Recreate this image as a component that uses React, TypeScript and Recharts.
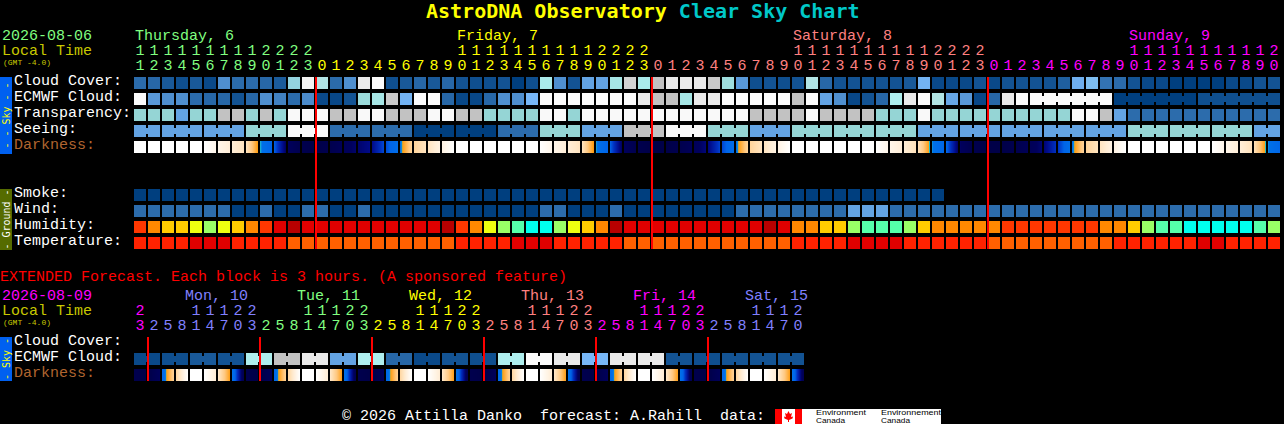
import { ScatterChart, Scatter, XAxis, YAxis, ReferenceLine } from "recharts";

const MONO = "'Liberation Mono', monospace";

// one hour per cell, first cell is Thursday 11:00
const hours = [
  11, 12, 13, 14, 15, 16, 17, 18, 19, 20, 21, 22, 23,
  0, 1, 2, 3, 4, 5, 6, 7, 8, 9, 10, 11, 12, 13, 14, 15, 16, 17, 18, 19, 20, 21, 22, 23,
  0, 1, 2, 3, 4, 5, 6, 7, 8, 9, 10, 11, 12, 13, 14, 15, 16, 17, 18, 19, 20, 21, 22, 23,
  0, 1, 2, 3, 4, 5, 6, 7, 8, 9, 10, 11, 12, 13, 14, 15, 16, 17, 18, 19, 20,
];
const midnights = [13, 37, 61];
const dayLabels: Record<number, string> = { 0: "Thursday, 6", 23: "Friday, 7", 47: "Saturday, 8", 71: "Sunday, 9" };

const cloudCover = [
  22, 20, 13, 8, 13, 5, 40, 22, 22, 20,
  14, 68, 98, 82, 22, 40, 95, 100, 8, 13,
  20, 13, 20, 10, 8, 8, 10, 0, 8, 78,
  40, 10, 50, 50, 76, 92, 78, 90, 95, 95,
  95, 91, 72, 45, 8, 10, 8, 10, 82, 20,
  10, 10, 10, 10, 10, 13, 58, 5, 5, 5,
  10, 5, 10, 10, 10, 10, 16, 56, 62, 26,
  22, 10, 5, 5, 0, 0, 0, 0, 5, 5, 10, 10,
];
const ecmwfCloud = [
  100, 45, 40, 40, 22, 20, 20, 10, 20, 40,
  33, 22, 38, 5, 4, 10, 70, 76, 91, 58,
  100, 100, 20, 4, 4, 20, 40, 40, 60, 100,
  100, 100, 100, 100, 100, 100, 95, 90, 90, 76,
  95, 95, 100, 100, 100, 100, 100, 90, 100, 50,
  40, 4, 10, 20, 80, 95, 100, 82, 52, 45,
  4, 20, 95, 100, 100, 100, 100, 100, 100, 100,
  0, 0, 0, 0, 0, 0, 8, 8, 8, 8, 8, 8,
];
const ecmwfSpans = [...Array(64).fill(1), 6, 6, 6];
// 0 best .. 5 too cloudy
const transparency = [
  3, 3, 3, 2, 3, 3, 4, 4, 3, 4,
  3, 5, 5, 5, 4, 4, 5, 5, 4, 4,
  4, 5, 5, 4, 4, 3, 3, 3, 3, 5,
  5, 3, 5, 5, 5, 5, 5, 5, 5, 5,
  5, 5, 5, 5, 4, 4, 4, 4, 5, 4,
  4, 4, 4, 3, 3, 3, 5, 3, 3, 3,
  3, 3, 3, 3, 3, 3, 3, 5, 5, 4,
  2, 1, 1, 1, 1, 1, 1, 1, 1, 1, 1, 1,
];
const seeingBlocks = [2, 2, 2, 3, 5, 1, 1, 0, 0, 1, 3, 2, 4, 5, 3, 2, 3, 3, 3, 2, 2, 2, 2, 2, 3, 3, 3, 2];
const seeingSpans = [2, 3, 3, 3, 3, 3, 3, 3, 3, 3, 3, 3, 3, 3, 3, 3, 3, 3, 3, 3, 3, 3, 3, 3, 3, 3, 3, 2];
const darkness = [
  -4, -4, -4, -4, -4, -4, -3.4, -2.9, -2.4, 0,
  1.2, 3.6, 4.6, 5, 4.6, 3.9, 3.4, 3, 1.6, 0.4,
  -1.7, -2.4, -3.2, -4, -4, -4, -4, -4, -4, -4,
  -3.4, -2.9, -2.4, 0.05, 1.2, 3.6, 4.6, 5, 5, 4.6,
  3.9, 3.2, 1.7, 0.4, -1.7, -2.4, -3.2, -4, -4, -4,
  -4, -4, -4, -4, -3.4, -2.9, -2.3, 0.1, 1, 3.5,
  4.6, 5, 5, 4.6, 4, 3.3, 2, 0.4, -1.7, -2.4,
  -3.2, -4, -4, -4, -4, -4, -4, -4, -3.4, -2.9, -2.3, 0.1, 1,
];
const smoke = [
  0, 0, 0, 0, 0, 0, 0, 0, 0, 0, 0, 0, 0, 0, 0, 0, 0, 0, 0, 0,
  0, 0, 0, 0, 0, 0, 0, 0, 0, 0, 0, 0, 0, 0, 0, 0, 0, 0, 0, 0,
  0, 0, 0, 0, 0, 0, 0, 0, 0, 0, 0, 0, 0, 0, 0, 0, 0, 0,
];
const wind = [
  1, 1, 1, 1, 1, 1, 1, 0, 0, 1,
  0, 0, 1, 1, 0, 0, 1, 0, 0, 0,
  0, 0, 0, 0, 0, 0, 0, 0, 0, 1,
  1, 0, 0, 0, 1, 0, 0, 0, 0, 0,
  0, 0, 0, 1, 1, 1, 1, 1, 1, 1,
  1, 2, 2, 2, 1, 1, 1, 1, 1, 1,
  1, 1, 1, 1, 1, 1, 1, 1, 1, 1,
  1, 1, 1, 1, 1, 1, 1, 1, 1, 1, 1, 1,
];
const humidity = [
  85, 75, 65, 65, 55, 45, 55, 65, 75, 85,
  95, 100, 95, 95, 95, 95, 95, 95, 95, 95,
  95, 95, 100, 85, 75, 55, 45, 35, 30, 30,
  45, 55, 65, 75, 100, 95, 95, 95, 95, 95,
  95, 95, 95, 95, 95, 100, 95, 75, 75, 65,
  65, 45, 35, 35, 35, 45, 65, 75, 75, 75,
  75, 75, 85, 85, 85, 85, 85, 85, 85, 75,
  75, 65, 45, 35, 35, 30, 30, 30, 30, 30, 35, 45,
];
const temperature = [
  30, 30, 30, 30, 33, 33, 33, 30, 30, 30,
  30, 27, 27, 27, 27, 27, 27, 27, 27, 27,
  27, 27, 27, 30, 30, 30, 30, 33, 33, 33,
  30, 30, 30, 30, 30, 27, 27, 27, 27, 27,
  27, 27, 27, 27, 27, 27, 27, 30, 30, 30,
  30, 33, 33, 33, 33, 30, 30, 30, 30, 30,
  30, 27, 27, 27, 27, 27, 27, 27, 27, 27,
  30, 30, 30, 30, 30, 30, 33, 33, 30, 30, 30, 30,
];

// extended forecast, one 3 hour block per cell
const extHours = [
  23, 2, 5, 8, 11, 14, 17, 20, 23, 2, 5, 8, 11, 14, 17, 20, 23, 2, 5, 8, 11, 14, 17, 20,
  23, 2, 5, 8, 11, 14, 17, 20, 23, 2, 5, 8, 11, 14, 17, 20, 23, 2, 5, 8, 11, 14, 17, 20,
];
const extMidnights = [1, 9, 17, 25, 33, 41];
const extDayLabels: Record<number, string> = { 4: "Mon, 10", 12: "Tue, 11", 20: "Wed, 12", 28: "Thu, 13", 36: "Fri, 14", 44: "Sat, 15" };
const extEcmwf = [
  5, 5, 8, 8, 13, 13, 10, 10, 80, 80, 90, 90, 95, 95, 50, 50,
  80, 80, 20, 20, 5, 5, 10, 10, 8, 8, 80, 80, 100, 100, 95, 95,
  60, 60, 95, 95, 95, 95, 10, 10, 8, 8, 10, 10, 10, 10, 10, 10,
];
const extEcmwfSpans = [2, 2, 2, 2, 2, 2, 2, 2, 2, 2, 2, 2, 2, 2, 2, 2, 2, 2, 2, 2, 2, 2, 2, 2];
const extDarkFrom = [
  4.6, 5, 0.9, -1.8, -4, -4, -2.6, 0.1,
  4.6, 5, 0.9, -1.8, -4, -4, -2.6, 0.1,
  4.6, 5, 0.9, -1.8, -4, -4, -2.6, 0.1,
  4.6, 5, 0.9, -1.8, -4, -4, -2.6, 0.1,
  4.6, 5, 0.9, -1.8, -4, -4, -2.6, 0.1,
  4.6, 5, 0.9, -1.8, -4, -4, -2.6, 0.1,
];
const extDarkTo = [
  5, 3.7, -1.6, -4, -4, -2.8, -0.1, 4.4,
  5, 3.7, -1.6, -4, -4, -2.8, -0.1, 4.4,
  5, 3.7, -1.6, -4, -4, -2.8, -0.1, 4.4,
  5, 3.7, -1.6, -4, -4, -2.8, -0.1, 4.4,
  5, 3.7, -1.6, -4, -4, -2.8, -0.1, 4.4,
  5, 3.7, -1.6, -4, -4, -2.8, -0.1, 4.4,
];

const rowNames: Record<number, string> = {
  0: "Cloud Cover:", 1: "ECMWF Cloud:", 2: "Transparency:", 3: "Seeing:", 4: "Darkness:",
  7: "Smoke:", 8: "Wind:", 9: "Humidity:", 10: "Temperature:",
};
const extRowNames: Record<number, string> = { 0: "Cloud Cover:", 1: "ECMWF Cloud:", 2: "Darkness:" };

const dayColors = ["#80ff80", "#ffff00", "#ff8080", "#ff00ff", "#8080ff"];

const cloudStops: [number, string][] = [
  [0, "#003f7f"], [10, "#135393"], [20, "#2767a7"], [30, "#3b7bbb"], [40, "#4f8fcf"], [50, "#63a3e3"],
  [60, "#77b7f7"], [70, "#9adada"], [80, "#aeeeee"], [90, "#c2c2c2"], [95, "#eaeaea"], [100, "#fbfbfb"],
];
const darkStops: [number, string][] = [
  [-4, "#ffffff"], [-3.4, "#fff6ea"], [-2.9, "#ffeed8"], [-2.4, "#ffe4c0"], [-1.2, "#ffc880"], [-0.05, "#ff9c10"],
  [0, "#20c0c8"], [0.2, "#0070e8"], [1.2, "#0064e8"], [2, "#0030c0"], [3, "#000a88"], [3.6, "#00005c"], [5, "#000048"],
];
const skyLevels = ["#003f7f", "#2c6cac", "#63a3e3", "#95d5d5", "#c2c2c2", "#f9f9f9"];
const humidityColors: Record<number, string> = {
  30: "#00ffee", 35: "#55ffaa", 45: "#99ff66", 55: "#eeff10", 65: "#ffcc00", 75: "#ff8800", 85: "#ff3700", 95: "#e00000", 100: "#b80000",
};
const temperatureColors: Record<number, string> = { 27: "#ff6000", 30: "#ff2200", 33: "#e00000" };

function hex(c: string) {
  return [1, 3, 5].map((p) => parseInt(c.slice(p, p + 2), 16));
}

function fromStops(stops: [number, string][], v: number) {
  if (v <= stops[0][0]) return stops[0][1];
  for (let i = 1; i < stops.length; i++) {
    if (v <= stops[i][0]) {
      const t = (v - stops[i - 1][0]) / (stops[i][0] - stops[i - 1][0]);
      const a = hex(stops[i - 1][1]);
      const b = hex(stops[i][1]);
      return `rgb(${a.map((x, k) => Math.round(x + (b[k] - x) * t)).join(",")})`;
    }
  }
  return stops[stops.length - 1][1];
}

const cloudColor = (v: number) => fromStops(cloudStops, v);
const skyColor = (v: number) => skyLevels[v];

function linksFrom(spans: number[]) {
  return spans.flatMap((n) => Array.from({ length: n }, (_, k) => k < n - 1));
}

function cells(values: number[], row: number, color: (v: number) => string, spans?: number[]) {
  const links = spans ? linksFrom(spans) : [];
  return values.map((v, i) => ({ cell: i, row, fill: color(v), link: !!links[i] }));
}

function darkCells(from: number[], to: number[], row: number) {
  return from.map((v, i) => ({ cell: i, row, from: v, to: to[i] }));
}

function Block(props: any) {
  const { cx, cy, payload } = props;
  return (
    <g shapeRendering="crispEdges">
      <rect x={cx} y={cy - 6} width={12} height={12} fill={payload.fill} />
      {payload.link && <rect x={cx + 12} y={cy - 3} width={2} height={6} fill={payload.fill} />}
    </g>
  );
}

function DarkBlock(props: any) {
  const { cx, cy, payload } = props;
  const cols = [0, 1, 2, 3, 4, 5, 6, 7, 8, 9, 10, 11];
  return (
    <g shapeRendering="crispEdges">
      {cols.map((k) => (
        <rect
          key={k}
          x={cx + k}
          y={cy - 6}
          width={1}
          height={12}
          fill={fromStops(darkStops, payload.from + ((payload.to - payload.from) * (k + 0.5)) / 12)}
        />
      ))}
    </g>
  );
}

function txt(x: number, y: number, s: string, fill: string, size = 15, anchor = "start") {
  return (
    <text x={x} y={y} fill={fill} fontSize={size} fontFamily={MONO} textAnchor={anchor as any} style={{ whiteSpace: "pre" }}>
      {s}
    </text>
  );
}

function hourTick(list: number[], firstDay: number, labels: Record<number, string>, base: number, labelShift: number) {
  return (props: any) => {
    const { x, payload } = props;
    const i = payload.value;
    let day = firstDay;
    for (let k = 1; k <= i; k++) if (list[k] < list[k - 1]) day++;
    const fill = dayColors[day % 5];
    const h = list[i];
    return (
      <g>
        {labels[i] && txt(x + labelShift, base, labels[i], fill)}
        {h >= 10 && txt(x + 6, base + 15, String(Math.floor(h / 10)), fill, 15, "middle")}
        {txt(x + 6, base + 30, String(h % 10), fill, 15, "middle")}
      </g>
    );
  };
}

function rowTick(names: Record<number, string>) {
  return (props: any) => {
    const { y, payload } = props;
    const name = names[payload.value];
    return txt(14, y + 2, name, name === "Darkness:" ? "#b0652f" : "#ffffff");
  };
}

function SideTag({ top, bottom, fill, color, text }: { top: number; bottom: number; fill: string; color: string; text: string }) {
  const mid = (top + bottom) / 2;
  return (
    <g>
      <rect x={0} y={top} width={12} height={bottom - top} fill={fill} />
      <text
        transform={`translate(9.5,${mid}) rotate(-90)`}
        textAnchor="middle"
        fill={color}
        fontSize={10}
        fontFamily="'DejaVu Sans Mono', monospace"
      >
        {text}
      </text>
    </g>
  );
}

function Overlay() {
  return (
    <svg width={1284} height={424} style={{ position: "absolute", left: 0, top: 0 }}>
      <text x={426} y={18} fontSize={20} fontWeight="bold" fontFamily="'DejaVu Sans Mono', monospace" style={{ whiteSpace: "pre" }}>
        <tspan fill="#ffff00">AstroDNA Observatory</tspan>
        <tspan fill="#00c8c8"> Clear Sky Chart</tspan>
      </text>
      {txt(2, 40, "2026-08-06", "#80ff80")}
      {txt(2, 55, "Local Time", "#c8c800")}
      {txt(3, 65, "(GMT -4.0)", "#c8c800", 8)}
      <SideTag top={77} bottom={154} fill="#0060f0" color="#ffff00" text="- - Sky - -" />
      <SideTag top={189} bottom={250} fill="#556b00" color="#ffffff" text="- Ground -" />
      {txt(0, 281, "EXTENDED Forecast. Each block is 3 hours. (A sponsored feature)", "#ff0000")}
      {txt(2, 300, "2026-08-09", "#ff00ff")}
      {txt(2, 315, "Local Time", "#c8c800")}
      {txt(3, 325, "(GMT -4.0)", "#c8c800", 8)}
      <SideTag top={337} bottom={381} fill="#0060f0" color="#ffff00" text="- Sky -" />
      {txt(342, 420, "© 2026 Attilla Danko  forecast: A.Rahill  data:", "#ffffff")}
      <g>
        <rect x={775} y={409} width={166} height={15} fill="#ffffff" />
        <rect x={775} y={409} width={7} height={15} fill="#ff0000" />
        <rect x={795} y={409} width={7} height={15} fill="#ff0000" />
        <polygon
          points="788.5,411 790,414 792,413 791,417 793,416.5 792.5,418.5 789,420 789,422 788,422 788,420 784.500,418.500 784,416.500 786,417 785,413 787,414"
          fill="#ff0000"
        />
        <g fontFamily="'Liberation Sans', sans-serif" fontSize={8} fill="#000000">
          <text x={816} y={415} textLength={50} lengthAdjust="spacingAndGlyphs">Environment</text>
          <text x={816} y={423} textLength={29} lengthAdjust="spacingAndGlyphs">Canada</text>
          <text x={881} y={415} textLength={60} lengthAdjust="spacingAndGlyphs">Environnement</text>
          <text x={881} y={423} textLength={29} lengthAdjust="spacingAndGlyphs">Canada</text>
        </g>
      </g>
    </svg>
  );
}

export default function App() {
  const seeing = seeingBlocks.flatMap((v, b) => Array(seeingSpans[b]).fill(v));
  const allCells = hours.map((_, i) => i);
  const allExt = extHours.map((_, i) => i);
  return (
    <div style={{ position: "fixed", left: 0, top: 0, width: 1284, height: 424, background: "#000", overflow: "hidden" }}>
      <Overlay />
      <div style={{ position: "absolute", left: 0, top: 0 }}>
        <ScatterChart width={1284} height={249} margin={{ top: 76, right: 2, bottom: 0, left: 0 }}>
          <XAxis
            type="number"
            dataKey="cell"
            orientation="top"
            height={1}
            domain={[0, 82]}
            ticks={allCells}
            interval={0}
            axisLine={false}
            tickLine={false}
            tick={hourTick(hours, 0, dayLabels, 40, 1)}
          />
          <YAxis
            type="number"
            dataKey="row"
            reversed
            width={134}
            domain={[-0.375, 10.375]}
            ticks={[0, 1, 2, 3, 4, 7, 8, 9, 10]}
            interval={0}
            axisLine={false}
            tickLine={false}
            tick={rowTick(rowNames)}
          />
          <Scatter data={cells(cloudCover, 0, cloudColor)} shape={Block} isAnimationActive={false} />
          <Scatter data={cells(ecmwfCloud, 1, cloudColor, ecmwfSpans)} shape={Block} isAnimationActive={false} />
          <Scatter data={cells(transparency, 2, skyColor)} shape={Block} isAnimationActive={false} />
          <Scatter data={cells(seeing, 3, skyColor, seeingSpans)} shape={Block} isAnimationActive={false} />
          <Scatter data={darkCells(darkness.slice(0, 82), darkness.slice(1), 4)} shape={DarkBlock} isAnimationActive={false} />
          <Scatter data={cells(smoke, 7, skyColor)} shape={Block} isAnimationActive={false} />
          <Scatter data={cells(wind, 8, skyColor)} shape={Block} isAnimationActive={false} />
          <Scatter data={cells(humidity, 9, (v) => humidityColors[v])} shape={Block} isAnimationActive={false} />
          <Scatter data={cells(temperature, 10, (v) => temperatureColors[v])} shape={Block} isAnimationActive={false} />
          {midnights.map((m) => (
            <ReferenceLine key={m} x={m} stroke="#ff0000" strokeWidth={2} zIndex={2000} />
          ))}
        </ScatterChart>
      </div>
      <div style={{ position: "absolute", left: 0, top: 270 }}>
        <ScatterChart width={1284} height={111} margin={{ top: 66, right: 2, bottom: 0, left: 0 }}>
          <XAxis
            type="number"
            dataKey="cell"
            orientation="top"
            height={1}
            domain={[0, 82]}
            ticks={allExt}
            interval={0}
            axisLine={false}
            tickLine={false}
            tick={hourTick(extHours, 3, extDayLabels, 30, -5)}
          />
          <YAxis
            type="number"
            dataKey="row"
            reversed
            width={134}
            domain={[-0.375, 2.375]}
            ticks={[0, 1, 2]}
            interval={0}
            axisLine={false}
            tickLine={false}
            tick={rowTick(extRowNames)}
          />
          <Scatter data={cells(extEcmwf, 1, cloudColor, extEcmwfSpans)} shape={Block} isAnimationActive={false} />
          <Scatter data={darkCells(extDarkFrom, extDarkTo, 2)} shape={DarkBlock} isAnimationActive={false} />
          {extMidnights.map((m) => (
            <ReferenceLine key={m} x={m} stroke="#ff0000" strokeWidth={2} zIndex={2000} />
          ))}
        </ScatterChart>
      </div>
    </div>
  );
}
